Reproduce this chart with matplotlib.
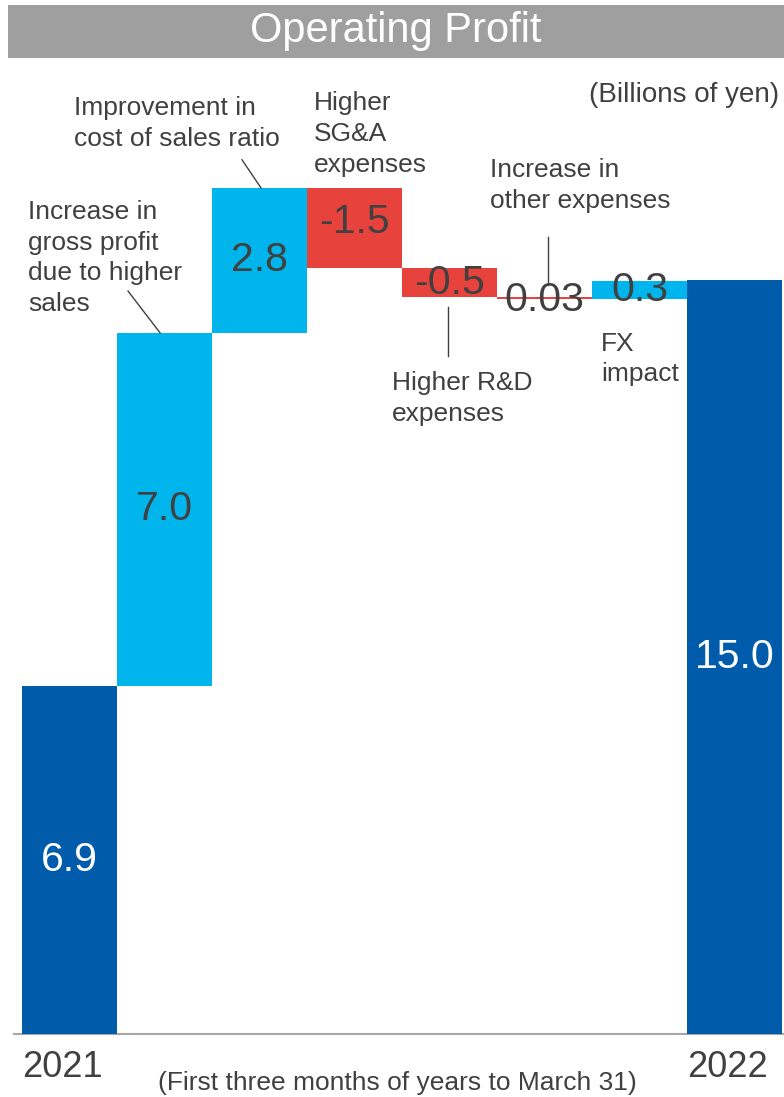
import matplotlib
matplotlib.use("Agg")
import matplotlib.pyplot as plt
from matplotlib.patches import Rectangle
import numpy as np

plt.rcParams['font.family'] = ['Liberation Sans', 'DejaVu Sans']

# Operating profit bridge, billions of yen (bar sizes,
# labels as printed)
steps = ["2021", "gross", "cos_ratio", "sga", "rnd", "other", "fx", "2022"]
values = [6.92, 7.02, 2.88, -1.59, -0.58, -0.03, 0.36, 15.0]
value_labels = ["6.9", "7.0", "2.8", "-1.5", "-0.5", "0.03", "0.3", "15.0"]
kinds = ["total", "up", "up", "down", "down", "down", "up", "total"]
year_labels = ["2021", "2022"]

DARK = "#005bab"
LIGHT = "#00b4ec"
RED = "#e8423d"
TXT = "#404040"
colors = {"total": DARK, "up": LIGHT, "down": RED}

W, H = 784, 1097
fig = plt.figure(figsize=(W / 100, H / 100), dpi=100)

# chart area: bars from x=22..782 px, baseline at y=1034 px, 50.3 px per billion
ymax = 19.3
base_px, ppu = 1034, 50.3
ax = fig.add_axes([22 / W, (H - base_px) / H, 760 / W, ymax * ppu / H])
ax.set_xlim(-0.5, 7.5)
ax.set_ylim(0, ymax)
ax.axis("off")

# waterfall bottoms
bottoms, tops = [], []
running = 0.0
for v, k in zip(values, kinds):
    if k == "total":
        b, t = 0.0, v
        running = v
    else:
        b, t = running, running + v
        running = t
    bottoms.append(min(b, t))
    tops.append(max(b, t))
bottoms = np.array(bottoms)
tops = np.array(tops)
heights = tops - bottoms
x = np.arange(len(values))

ax.bar(x, heights, bottom=bottoms, width=1.0,
       color=[colors[k] for k in kinds], linewidth=0)

label_dy = [0, 0, 0, 0.12, 0, -0.05, 0, 0]
for i, lab in enumerate(value_labels):
    c = "white" if kinds[i] == "total" else TXT
    ax.text(x[i], bottoms[i] + heights[i] / 2 + label_dy[i], lab,
            ha="center", va="center", fontsize=29.5, color=c)

# baseline
ax.plot([-0.584, 7.52], [0, 0], color="#a6a6a6", lw=1.5, clip_on=False, zorder=0)

# annotations
ann_kw = dict(fontsize=19, color=TXT, ha="left", va="top", linespacing=1.35)
ax.text(-0.437, 16.58, "Increase in\ngross profit\ndue to higher\nsales", **ann_kw)
ax.text(0.047, 18.64, "Improvement in\ncost of sales ratio", **ann_kw)
ax.text(2.574, 18.74, "Higher\nSG&A\nexpenses", **ann_kw)
ax.text(4.426, 17.41, "Increase in\nother expenses", **ann_kw)
ax.text(3.395, 13.18, "Higher R&D\nexpenses", **ann_kw)
ax.text(5.595, 13.96, "FX\nimpact", **ann_kw)

lk = dict(color=TXT, lw=1.0)
ax.plot([0.616, 0.953], [tops[1] + 0.83, tops[1]], **lk)
ax.plot([1.816, 2.016], [tops[2] + 0.56, tops[2]], **lk)
ax.plot([5.037, 5.037], [tops[5] + 1.2, tops[5] + 0.25], **lk)
ax.plot([3.984, 3.984], [bottoms[4] - 0.2, bottoms[4] - 1.17], **lk)

ax.text(7.47, 18.67, "(Billions of yen)", fontsize=20, color=TXT,
        ha="right", va="center")

# year labels left-aligned with the total bars
ax.text(-0.5, -0.66, year_labels[0], fontsize=26, color=TXT, ha="left", va="center")
ax.text(6.5, -0.66, year_labels[1], fontsize=26, color=TXT, ha="left", va="center")
ax.text(3.45, -0.97, "(First three months of years to March 31)", fontsize=19,
        color=TXT, ha="center", va="center", clip_on=False)

# title banner
fig.patches.append(Rectangle((8 / W, 1 - 58 / H), 776 / W, 53 / H,
                             transform=fig.transFigure, color="#9f9f9f", lw=0))
fig.text(396 / W, 1 - 31 / H, "Operating Profit", fontsize=30, color="white",
         ha="center", va="center")

fig.savefig("out.png", dpi=100)
